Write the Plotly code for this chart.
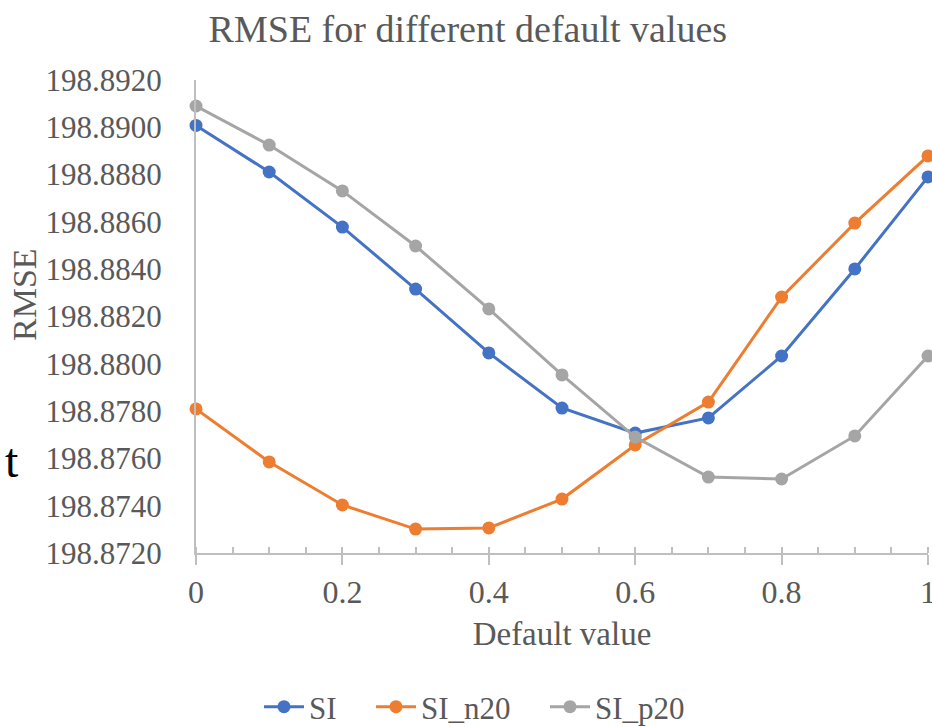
import plotly.graph_objects as go

x_vals = [0, 0.1, 0.2, 0.3, 0.4, 0.5, 0.6, 0.7, 0.8, 0.9, 1.0]
si = [198.89008, 198.88811, 198.88578, 198.88316, 198.88046, 198.87813,
      198.87707, 198.87771, 198.88033, 198.88401, 198.88790]
si_n20 = [198.87809, 198.87585, 198.87403, 198.87301, 198.87306, 198.87428,
          198.87657, 198.87838, 198.88282, 198.88595, 198.88879]
si_p20 = [198.89090, 198.88925, 198.88731, 198.88498, 198.88232, 198.87953,
          198.87690, 198.87521, 198.87513, 198.87695, 198.88033]

names = ["SI", "SI_n20", "SI_p20"]
colors = ["#4472C4", "#ED7D31", "#A5A5A5"]
legend_widths = [57, 119, 120]

FONT = "Liberation Serif"
GREY_TXT = "#595959"
AXIS_C = "#BFBFBF"

fig = go.Figure()
for name, vals, col, lw in zip(names, [si, si_n20, si_p20], colors, legend_widths):
    fig.add_trace(go.Scatter(
        x=x_vals, y=vals, name=name, mode="lines+markers",
        line=dict(color=col, width=3),
        marker=dict(color=col, size=13),
        cliponaxis=False, legendwidth=lw,
    ))

fig.update_layout(
    width=932, height=727,
    margin=dict(l=196, r=4, t=80, b=174),
    paper_bgcolor="white", plot_bgcolor="white",
    font=dict(family=FONT, color=GREY_TXT, size=32),
    title=dict(text="RMSE for different default values", x=0.502, xref="container",
               xanchor="center", y=1 - 29 / 727, yref="container", yanchor="middle",
               font=dict(size=38, color=GREY_TXT, family=FONT)),
    showlegend=True,
    legend=dict(orientation="h", x=259 / 932, xref="container", xanchor="left",
                y=1 - 707 / 727, yref="container", yanchor="middle",
                font=dict(size=31, color=GREY_TXT, family=FONT),
                itemwidth=40, tracegroupgap=0, bgcolor="rgba(0,0,0,0)"),
    xaxis=dict(range=[0, 1], dtick=0.2, tick0=0, showgrid=False, zeroline=False,
               showline=True, linecolor=AXIS_C, linewidth=2, automargin=False,
               ticks="outside", ticklen=10, tickcolor=AXIS_C, tickwidth=2,
               ticklabeloverflow="allow",
               minor=dict(dtick=0.05, ticks="inside", ticklen=6, tickcolor=AXIS_C, tickwidth=1.5),
               tickfont=dict(size=32, color=GREY_TXT, family=FONT),
               title=dict(text="Default value", font=dict(size=33, color=GREY_TXT, family=FONT), standoff=12)),
    yaxis=dict(range=[198.872, 198.892], dtick=0.002, tick0=198.872, tickformat=".4f",
               showgrid=False, zeroline=False, showline=True, linecolor=AXIS_C, linewidth=2,
               automargin=False, ticklabelstandoff=26,
               ticks="", tickfont=dict(size=31, color=GREY_TXT, family=FONT)),
)

fig.add_annotation(text="RMSE", xref="paper", yref="paper", x=(24 - 196) / 732, y=(553 - 295) / 473,
                   xanchor="center", yanchor="middle", textangle=-90, showarrow=False,
                   font=dict(size=34, color=GREY_TXT, family=FONT))

fig.add_annotation(text="t", xref="paper", yref="paper", x=(21 - 196) / 732, y=(553 - 460) / 473,
                   xanchor="right", yanchor="middle", showarrow=False,
                   font=dict(size=48, color="black", family=FONT))

fig.write_html("out.html")
